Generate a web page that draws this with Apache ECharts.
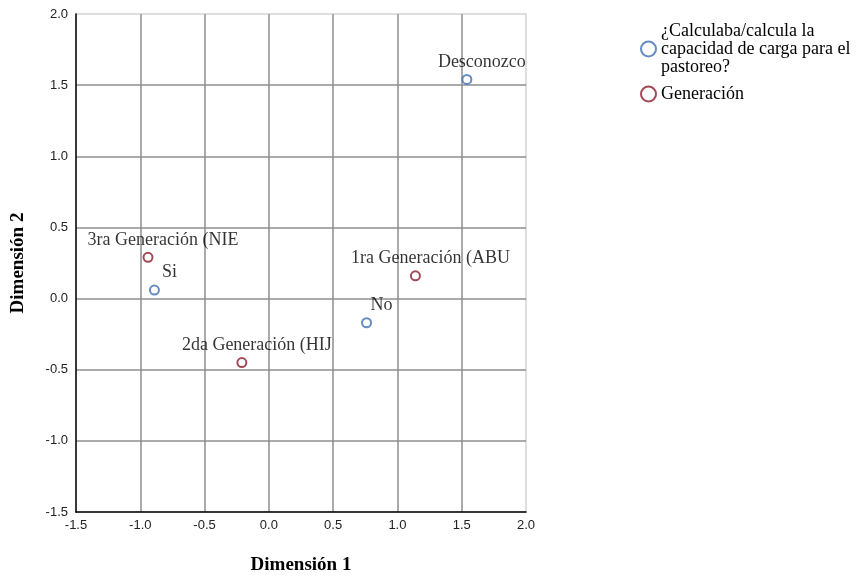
<!DOCTYPE html>
<html>
<head>
<meta charset="utf-8">
<script src="https://cdn.jsdelivr.net/npm/echarts@6/dist/echarts.min.js"></script>
<style>html,body{margin:0;padding:0;background:#fff}#c{width:858px;height:576px}</style>
</head>
<body>
<div id="c"></div>
<script>
const seriesNames = ['¿Calculaba/calcula la capacidad de carga para el pastoreo?', 'Generación'];
const calcLabels = ['Desconozco', 'Si', 'No'];
const calcX = [1.54, -0.89, 0.76];
const calcY = [1.54, 0.06, -0.17];
const genLabels = ['1ra Generación (ABU', '2da Generación (HIJ', '3ra Generación (NIE'];
const genX = [1.14, -0.21, -0.94];
const genY = [0.16, -0.45, 0.29];
const xTicks = [-1.5, -1.0, -0.5, 0.0, 0.5, 1.0, 1.5, 2.0];
const yTicks = [-1.5, -1.0, -0.5, 0.0, 0.5, 1.0, 1.5, 2.0];

const serif = '"Liberation Serif", "Times New Roman", serif';
const sans = '"Liberation Sans", Arial, sans-serif';
const colors = ['#3f6fb4', '#8b1d2c'];

function pts(xs, ys, ls) { return xs.map((x, i) => ({ value: [x, ys[i]], name: ls[i] })); }

const chart = echarts.init(document.getElementById('c'), null, { renderer: 'canvas' });
const labelStyle = {
  show: true, position: 'top', offset: [15, 2],
  formatter: p => p.name, fontFamily: serif, fontSize: 18, color: '#000'
};
chart.setOption({
  animation: false,
  grid: { left: 76, right: 332, top: 14, bottom: 64, outerBoundsMode: 'none', containLabel: false,
    show: true, borderColor: '#d4d4d4', borderWidth: 1.5 },
  legend: {
    left: 635, top: 17, orient: 'vertical', itemGap: 9,
    itemWidth: 15, itemHeight: 15,
    textStyle: { fontFamily: serif, fontSize: 18, color: '#000', lineHeight: 18 },
    formatter: n => n === seriesNames[0] ? '¿Calculaba/calcula la\ncapacidad de carga para el\npastoreo?' : n
  },
  xAxis: {
    type: 'value', min: -1.5, max: 2.0, interval: 0.5,
    name: 'Dimensión 1', nameLocation: 'middle', nameGap: 44,
    nameTextStyle: { fontFamily: serif, fontWeight: 'bold', fontSize: 19, color: '#000' },
    axisLine: { show: true, onZero: false, lineStyle: { color: '#000', width: 1.5 } },
    axisTick: { show: false },
    axisLabel: { fontFamily: sans, fontSize: 13, color: '#222', margin: 7,
      formatter: v => { const t = xTicks.find(k => Math.abs(k - v) < 1e-9); return t === undefined ? '' : t.toFixed(1); } },
    splitLine: { show: true, showMinLine: false, showMaxLine: false, lineStyle: { color: '#8e8e8e', width: 1.5 } }
  },
  yAxis: {
    type: 'value', min: -1.5, max: 2.0, interval: 0.5,
    name: 'Dimensión 2', nameLocation: 'middle', nameGap: 48, nameRotate: 90,
    nameTextStyle: { fontFamily: serif, fontWeight: 'bold', fontSize: 19, color: '#000' },
    axisLine: { show: true, onZero: false, lineStyle: { color: '#000', width: 1.5 } },
    axisTick: { show: false },
    axisLabel: { fontFamily: sans, fontSize: 13, color: '#222', margin: 8,
      formatter: v => { const t = yTicks.find(k => Math.abs(k - v) < 1e-9); return t === undefined ? '' : t.toFixed(1); } },
    splitLine: { show: true, showMinLine: false, showMaxLine: false, lineStyle: { color: '#8e8e8e', width: 1.5 } }
  },
  series: [
    { name: seriesNames[0], type: 'scatter', symbol: 'emptyCircle', symbolSize: 9,
      itemStyle: { color: colors[0], borderWidth: 1.6 }, label: labelStyle,
      data: pts(calcX, calcY, calcLabels) },
    { name: seriesNames[1], type: 'scatter', symbol: 'emptyCircle', symbolSize: 9,
      itemStyle: { color: colors[1], borderWidth: 1.6 }, label: labelStyle,
      data: pts(genX, genY, genLabels) }
  ]
});
</script>
</body>
</html>
